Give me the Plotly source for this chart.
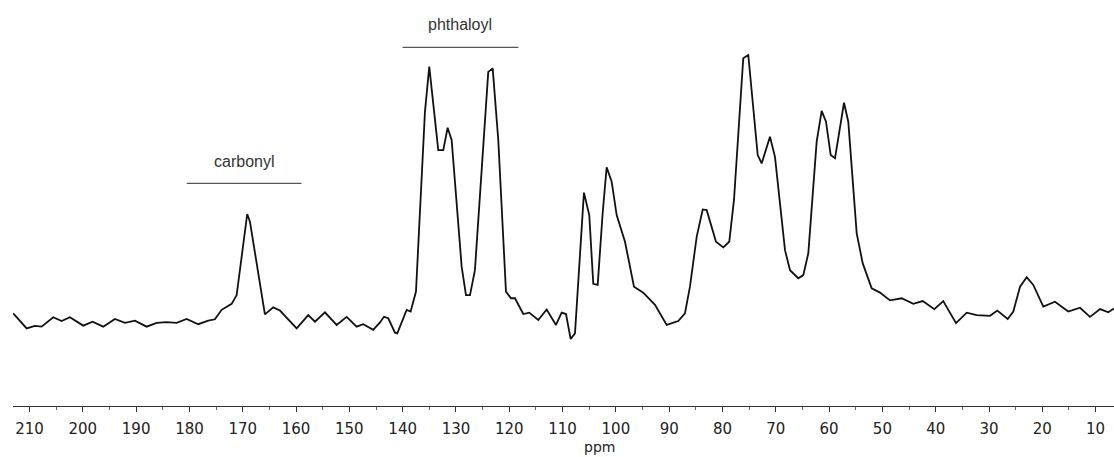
import plotly.graph_objects as go

# Chemical shift (ppm) and signal intensity (arbitrary units, tallest peak = 100)
ppm = [
    213.06, 210.54, 208.99, 207.73, 205.55, 203.98, 202.42, 199.92, 198.16, 196.17,
    193.98, 192.10, 190.23, 188.03, 186.15, 184.30, 182.40, 180.53, 178.35, 176.47,
    175.22, 173.96, 172.08, 171.14, 169.16, 168.65, 165.84, 164.28, 163.02, 159.89,
    157.71, 156.45, 154.58, 152.38, 150.51, 148.63, 147.39, 145.52, 144.26, 143.51,
    142.70, 141.44, 141.01, 140.19, 139.25, 138.50, 137.50, 135.82, 135.01, 133.32,
    132.38, 131.56, 130.81, 128.93, 128.12, 127.37, 126.44, 123.94, 123.11, 122.06,
    120.62, 119.68, 118.93, 117.37, 116.25, 114.56, 112.98, 111.24, 110.17, 109.36,
    108.48, 107.67, 105.99, 104.99, 104.24, 103.41, 102.48, 101.73, 100.79, 99.85,
    98.29, 96.60, 94.86, 92.66, 90.47, 88.29, 87.04, 86.10, 84.84, 83.71,
    82.96, 81.22, 79.85, 78.73, 77.84, 76.10, 75.16, 73.39, 72.65, 71.09,
    70.15, 68.27, 67.33, 65.78, 64.84, 63.90, 62.33, 61.39, 60.58, 59.70,
    58.89, 57.20, 56.40, 54.82, 53.70, 52.01, 50.45, 48.58, 46.38, 44.20,
    42.44, 40.26, 38.58, 36.19, 34.18, 32.31, 29.81, 28.44, 26.49, 25.44,
    24.18, 22.93, 21.69, 19.81, 17.62, 15.13, 12.92, 11.05, 9.17, 7.62,
    6.55,
]
intensity = [
    26.4, 22.1, 22.8, 22.6, 25.3, 24.2, 25.3, 22.9, 24.0, 22.6,
    24.8, 23.7, 24.3, 22.6, 23.7, 23.9, 23.7, 24.8, 23.3, 24.3,
    24.7, 27.4, 29.1, 31.6, 54.7, 52.5, 26.1, 28.1, 27.2, 22.1,
    25.9, 24.0, 26.7, 23.1, 25.4, 22.6, 23.3, 21.7, 23.8, 25.4,
    25.0, 20.9, 20.7, 24.0, 27.4, 26.9, 32.6, 83.8, 96.7, 72.9,
    72.9, 79.3, 75.8, 39.7, 31.6, 31.6, 38.7, 95.2, 96.2, 75.8,
    32.6, 30.7, 30.7, 26.2, 26.6, 24.5, 27.5, 23.1, 26.6, 26.2,
    19.1, 20.7, 60.8, 54.4, 34.8, 34.5, 54.9, 68.0, 63.9, 54.4,
    46.8, 34.0, 32.3, 28.8, 23.1, 24.2, 26.4, 34.0, 48.2, 56.0,
    55.8, 46.8, 45.2, 46.8, 58.7, 99.1, 100.0, 71.5, 69.1, 76.7,
    71.0, 44.4, 38.7, 36.4, 37.3, 43.5, 75.3, 84.1, 81.0, 71.5,
    70.6, 86.4, 81.0, 49.2, 40.7, 33.5, 32.3, 30.1, 30.7, 29.1,
    29.9, 27.6, 29.9, 23.6, 26.6, 25.9, 25.7, 27.2, 24.8, 26.9,
    34.0, 36.7, 34.5, 28.3, 29.7, 26.9, 28.0, 25.4, 27.6, 26.7,
    27.8,
]

# Region labels: (text, ppm from, ppm to, bar height, text height)
regions = [
    ("carbonyl", 180.5, 159.0, 63.4, 69.6),
    ("phthaloyl", 140.0, 118.3, 102.2, 108.8),
]

major_ticks = list(range(210, 0, -10))
minor_ticks = list(range(205, 0, -10))

fig = go.Figure()
fig.add_trace(go.Scatter(
    x=ppm, y=intensity, mode="lines",
    line=dict(color="#111111", width=1.8),
    hoverinfo="skip", showlegend=False,
))

for text, x0, x1, ybar, ytext in regions:
    fig.add_shape(type="line", xref="x", yref="y", x0=x0, x1=x1, y0=ybar, y1=ybar,
                  line=dict(color="#555555", width=1.3))
    fig.add_annotation(x=(x0 + x1) / 2, y=ytext, xref="x", yref="y", text=text,
                       showarrow=False,
                       font=dict(family="Liberation Sans, Arial", size=16, color="#333333"))

fig.add_annotation(x=103, y=0, xref="x", yref="paper", yanchor="top", yshift=-32,
                   text="ppm", showarrow=False, borderpad=0,
                   font=dict(family="DejaVu Sans", size=14, color="#222222"))

fig.update_xaxes(
    range=[213.1, 6.55], autorange=False,
    tickmode="array", tickvals=major_ticks, ticktext=[str(v) for v in major_ticks],
    ticks="outside", ticklen=5, tickwidth=1, tickcolor="#333333",
    ticklabelstandoff=4,
    minor=dict(tickmode="array", tickvals=minor_ticks, ticks="outside", ticklen=3,
               tickcolor="#666666", tickwidth=1),
    showline=True, linecolor="#333333", linewidth=1.2,
    showgrid=False, zeroline=False,
    tickfont=dict(family="DejaVu Sans", size=15, color="#222222"),
)
fig.update_yaxes(range=[0, 115.67], autorange=False, visible=False, showgrid=False)

fig.update_layout(
    width=1114, height=457,
    margin=dict(l=13, r=0, t=0, b=51),
    paper_bgcolor="white", plot_bgcolor="white",
)

fig.write_html("out.html")
